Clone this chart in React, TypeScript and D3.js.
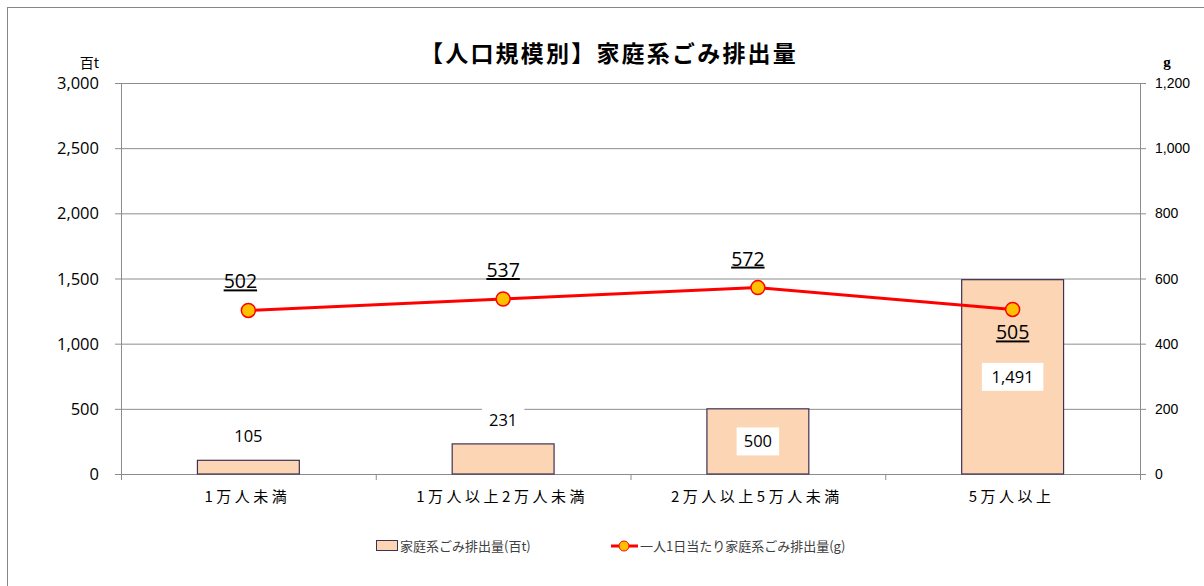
import * as d3 from 'd3'

const categories = ['1万人未満', '1万人以上2万人未満', '2万人以上5万人未満', '5万人以上']
const wasteTotal = [105, 231, 500, 1491]
const perCapita = [502, 537, 572, 505]
const leftTicks = [0, 500, 1000, 1500, 2000, 2500, 3000]
const rightTicks = [0, 200, 400, 600, 800, 1000, 1200]

const W = 1204
const H = 586
const m = { left: 121, right: 1140, top: 83, bottom: 474 }
const font = '"Noto Sans CJK JP", "Noto Sans", sans-serif'
const numFont = '"Open Sans", "Noto Sans", sans-serif'
const fmt = d3.format(',')

export default function App() {
  const x = d3.scaleBand(categories, [m.left, m.right])
  const y = d3.scaleLinear([0, 3000], [m.bottom, m.top])
  const y2 = d3.scaleLinear([0, 1200], [m.bottom, m.top])
  const barW = x.bandwidth() * 0.4
  const cx = (c: string) => (x(c) ?? 0) + x.bandwidth() / 2
  const line = d3.line<number>((d, i) => cx(categories[i]), (d) => y2(d))

  // label placement: above small bars, inside tall bars
  const barLabelY = (v: number, i: number) =>
    i < 2 ? y(v) - 24 : y(v) / 2 + m.bottom / 2
  const lineLabelDy = [-22, -22, -22, 30]

  return (
    <svg width={W} height={H} style={{ position: 'absolute', left: 0, top: 0 }}>
      <rect x={7.5} y={7.5} width={W} height={H} fill="#fff" stroke="#868686" />
      <text x={609} y={62} textAnchor="middle" fontFamily={font} fontSize={23} fontWeight="bold" letterSpacing={2.2}>
        【人口規模別】家庭系ごみ排出量
      </text>
      <text x={99} y={68} textAnchor="end" fontFamily={font} fontSize={14}>百t</text>
      <text x={1167} y={67} textAnchor="middle" fontFamily="'Liberation Serif', serif" fontSize={15} fontWeight="bold">g</text>

      {leftTicks.map((t) => (
        <g key={t}>
          <line x1={m.left - 6} x2={m.right} y1={y(t) + 0.5} y2={y(t) + 0.5} stroke="#8c8c8c" />
          <text x={m.left - 22} y={y(t) + 6} textAnchor="end" fontFamily={numFont} fontSize={16.5}>{fmt(t)}</text>
        </g>
      ))}
      {rightTicks.map((t) => (
        <g key={t}>
          <line x1={m.right} x2={m.right + 6} y1={y2(t) + 0.5} y2={y2(t) + 0.5} stroke="#8c8c8c" />
          <text x={m.right + 15} y={y2(t) + 5} fontFamily="'Liberation Sans', sans-serif" fontSize={14}>{fmt(t)}</text>
        </g>
      ))}
      <line x1={m.left + 0.5} x2={m.left + 0.5} y1={m.top} y2={m.bottom + 6} stroke="#8c8c8c" />
      <line x1={m.right + 0.5} x2={m.right + 0.5} y1={m.top} y2={m.bottom} stroke="#8c8c8c" />
      {categories.map((c, i) => (
        <g key={c}>
          <line x1={(x(c) ?? 0) + x.bandwidth() + 0.5} x2={(x(c) ?? 0) + x.bandwidth() + 0.5}
            y1={m.bottom} y2={m.bottom + 6} stroke="#8c8c8c" />
          <text x={cx(c) - 1} y={m.bottom + 28} textAnchor="middle" fontFamily={font} fontSize={15} letterSpacing={3.5}>{c}</text>
        </g>
      ))}

      {wasteTotal.map((v, i) => (
        <rect key={i} x={cx(categories[i]) - barW / 2} y={y(v)} width={barW} height={m.bottom - y(v)}
          fill="#FCD5B5" stroke="#403152" strokeWidth={1.2} />
      ))}
      {wasteTotal.map((v, i) => {
        const ly = barLabelY(v, i)
        const s = fmt(v)
        const bw = s.length * 9.5 + 14
        return (
          <g key={i}>
            <rect x={cx(categories[i]) - bw / 2} y={ly - 14} width={bw} height={28} fill="#fff" />
            <text x={cx(categories[i])} y={ly + 6} textAnchor="middle" fontFamily={numFont} fontSize={16.5}>{s}</text>
          </g>
        )
      })}

      <path d={line(perCapita) ?? undefined} fill="none" stroke="#FF0000" strokeWidth={3} />
      {perCapita.map((v, i) => (
        <circle key={i} cx={cx(categories[i])} cy={y2(v)} r={7} fill="#FFC000" stroke="#FF0000" strokeWidth={1.5} />
      ))}
      {perCapita.map((v, i) => (
        <text key={i} x={cx(categories[i]) - (i === 0 ? 8 : i === 2 ? 10 : 0)} y={y2(v) + lineLabelDy[i]}
          textAnchor="middle" fontFamily={numFont} fontSize={19.5} textDecoration="underline">{v}</text>
      ))}

      <g fontFamily={font} fontSize={13} fill="#404040">
        <rect x={376.5} y={540.5} width={21} height={10} fill="#FCD5B5" stroke="#403152" />
        <text x={400} y={551}>家庭系ごみ排出量(百t)</text>
        <line x1={611} x2={638} y1={546} y2={546} stroke="#FF0000" strokeWidth={3} />
        <circle cx={624} cy={546} r={5} fill="#FFC000" stroke="#FF0000" />
        <text x={640} y={551}>一人1日当たり家庭系ごみ排出量(g)</text>
      </g>
    </svg>
  )
}
